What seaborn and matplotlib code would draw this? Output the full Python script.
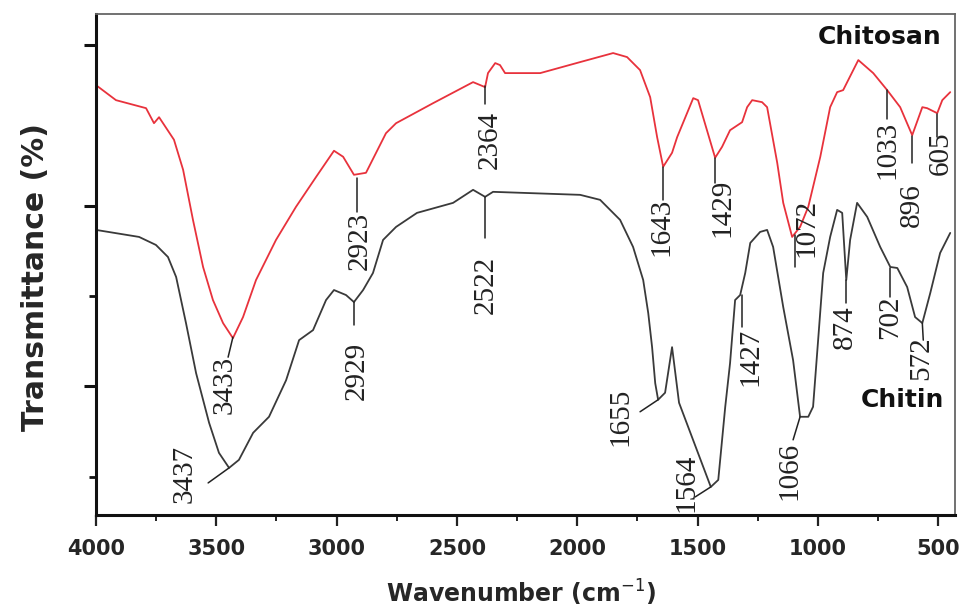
import numpy as np
import pandas as pd
import matplotlib
matplotlib.use("Agg")
import matplotlib.pyplot as plt
from matplotlib import font_manager
from matplotlib.ticker import FixedLocator, MultipleLocator, NullFormatter
import seaborn as sns

# ---------------- data ----------------
chitosan_wn = [4000, 3917, 3792, 3759, 3738, 3676, 3638, 3597, 3555, 3514, 3472, 3431,
               3389, 3335, 3252, 3169, 3085, 3011, 2973, 2928, 2878, 2836, 2795, 2753,
               2599, 2433, 2383, 2371, 2341, 2321, 2300, 2154, 1988, 1851, 1793, 1739,
               1697, 1668, 1643, 1606, 1585, 1518, 1498, 1427, 1398, 1365, 1315, 1294,
               1273, 1232, 1211, 1169, 1144, 1107, 1074, 1040, 990, 949, 920, 895,
               832, 770, 712, 658, 608, 566, 546, 504, 483, 450]
chitosan_t = [85.8, 82.8, 81.2, 78.2, 79.4, 74.9, 68.9, 58.9, 49.5, 42.9, 38.3, 35.3,
              39.5, 46.9, 54.9, 61.5, 67.5, 72.7, 71.5, 67.9, 68.3, 72.3, 76.2, 78.2,
              82.2, 86.4, 85.4, 88.2, 90.2, 89.8, 88.2, 88.2, 90.4, 92.2, 91.4, 88.8,
              83.4, 75.4, 69.5, 72.3, 75.4, 83.2, 82.8, 71.3, 73.5, 76.8, 78.4, 81.4,
              82.8, 82.4, 81.4, 70.3, 62.3, 55.5, 57.5, 61.5, 71.5, 81.4, 84.4, 84.8,
              90.8, 88.2, 84.8, 81.4, 75.8, 81.4, 81.2, 80.2, 82.8, 84.4]

chitin_wn = [4000, 3821, 3751, 3701, 3667, 3626, 3584, 3530, 3489, 3447, 3406, 3347,
             3281, 3210, 3156, 3098, 3044, 3011, 2961, 2928, 2890, 2849, 2807, 2753,
             2666, 2516, 2433, 2383, 2350, 1988, 1905, 1822, 1768, 1726, 1705, 1689,
             1676, 1664, 1635, 1606, 1577, 1445, 1414, 1385, 1365, 1344, 1323, 1302,
             1281, 1240, 1211, 1186, 1144, 1103, 1074, 1040, 1020, 999, 978, 949,
             920, 899, 882, 866, 837, 795, 741, 699, 670, 629, 596, 566, 533, 492, 450]
chitin_t = [56.9, 55.5, 53.9, 51.5, 47.5, 38.3, 28.3, 18.4, 12.4, 9.4, 11.0, 16.4,
            19.6, 26.9, 34.9, 36.9, 42.9, 44.9, 43.9, 42.5, 44.9, 48.3, 54.9, 57.5,
            60.3, 62.3, 64.9, 63.5, 64.5, 63.9, 62.9, 58.9, 53.5, 46.9, 40.3, 33.5,
            26.3, 23.0, 24.4, 33.5, 22.4, 5.6, 7.0, 21.6, 30.3, 42.9, 43.9, 48.3,
            54.3, 56.5, 56.9, 53.5, 41.5, 30.9, 19.6, 19.6, 21.6, 34.9, 48.3, 55.5,
            60.9, 60.3, 46.9, 54.9, 62.3, 59.5, 53.5, 49.5, 49.3, 45.5, 39.5, 38.3,
            44.3, 52.3, 56.3]

x_ticks = [4000, 3500, 3000, 2500, 2000, 1500, 1000, 500]

chitosan_labels = ["3433", "2923", "2364", "1643", "1429", "1072", "1033", "896", "605"]
chitin_labels = ["3437", "2929", "2522", "1655", "1564", "1427", "1066", "874", "702", "572"]

# ---------------- layout: (curve point), (leader end), (text centre) ----------------
chitosan_ann = [((3431, 35.5), (3451, 31.5), (3464, 25.9)),
                ((2915, 67.3), (2915, 60.5), (2903, 54.7)),
                ((2383, 85.6), (2383, 82.0), (2362, 74.9)),
                ((1643, 69.5), (1643, 62.9), (1651, 57.5)),
                ((1427, 71.3), (1427, 66.3), (1398, 61.3)),
                ((1094, 55.9), (1094, 49.5), (1049, 57.3)),
                ((712, 84.8), (712, 79.0), (712, 72.9)),
                ((608, 75.6), (608, 70.3), (608, 61.9)),
                ((504, 80.0), (504, 75.4), (491, 72.3))]
chitin_ann = [((3447, 9.4), (3534, 6.4), (3630, 8.2)),
              ((2928, 42.5), (2928, 37.9), (2915, 28.7)),
              ((2383, 63.5), (2383, 55.3), (2379, 45.9)),
              ((1664, 23.0), (1739, 20.6), (1822, 19.6)),
              ((1445, 5.6), (1510, 3.6), (1547, 6.4)),
              ((1315, 43.9), (1315, 37.5), (1281, 31.5)),
              ((1074, 19.6), (1103, 15.0), (1119, 8.8)),
              ((882, 46.9), (882, 42.3), (887, 37.5)),
              ((699, 49.3), (699, 43.5), (699, 39.5)),
              ((566, 38.3), (562, 34.9), (570, 31.3))]

sns.set_theme(style="white")

available = {f.name for f in font_manager.fontManager.ttflist}
if "Liberation Sans Narrow" in available:
    SANS = ["Liberation Sans Narrow", "DejaVu Sans"]
    k = 1.45
else:
    SANS = ["DejaVu Sans"]
    k = 1.0
SERIF = ["Liberation Serif", "DejaVu Serif"]

plt.rcParams["font.family"] = SANS

df = pd.concat([
    pd.DataFrame({"wn": chitosan_wn, "T": chitosan_t, "sample": "Chitosan"}),
    pd.DataFrame({"wn": chitin_wn, "T": chitin_t, "sample": "Chitin"}),
])

fig = plt.figure(figsize=(9.61, 6.08), dpi=100)
ax = fig.add_axes([0.0999, 0.1530, 0.8939, 0.8240])

sns.lineplot(data=df, x="wn", y="T", hue="sample", units="sample", estimator=None,
             palette={"Chitosan": "#e8323c", "Chitin": "#3a3a3a"},
             linewidth=1.3, legend=False, ax=ax, sort=False)

ax.set_xlim(4000, 430)
ax.set_ylim(0, 100)

ax.xaxis.set_major_locator(FixedLocator(x_ticks))
ax.xaxis.set_minor_locator(MultipleLocator(250))
ax.set_xticklabels([str(t) for t in x_ticks])
ax.yaxis.set_major_locator(FixedLocator([25.7, 61.7, 93.8]))
ax.yaxis.set_minor_locator(FixedLocator([7.6, 43.7]))
ax.yaxis.set_major_formatter(NullFormatter())

ax.tick_params(axis="x", which="major", direction="out", length=8, width=1.6,
               color="#222222", bottom=True, pad=9, labelsize=15 * k)
ax.tick_params(axis="x", which="minor", direction="out", length=4, width=1.4,
               color="#222222", bottom=True)
ax.tick_params(axis="y", which="major", direction="out", length=9, width=2.2,
               color="#111111", left=True)
ax.tick_params(axis="y", which="minor", direction="out", length=5, width=2.0,
               color="#111111", left=True)
for lab in ax.get_xticklabels():
    lab.set_fontweight("bold")
    lab.set_family(SANS)

for side in ["left", "bottom"]:
    ax.spines[side].set_color("#111111")
    ax.spines[side].set_linewidth(2.2)
for side in ["top", "right"]:
    ax.spines[side].set_color("#666666")
    ax.spines[side].set_linewidth(1.3)

ax.set_xlabel("Wavenumber (cm$^{-1}$)", fontsize=17 * k, fontweight="bold", family=SANS)
ax.xaxis.set_label_coords(0.495, -0.125)
ax.set_ylabel("Transmittance (%)", fontsize=21.5 * k, fontweight="bold", family=SANS)
ax.yaxis.set_label_coords(-0.053, 0.475)

def annotate(labels, anns):
    for txt, (p0, p1, tc) in zip(labels, anns):
        ax.plot([p0[0], p1[0]], [p0[1], p1[1]], color="#222222", lw=1.1)
        ax.text(tc[0], tc[1], txt, rotation=90, ha="center", va="center",
                fontsize=21, family=SERIF, color="#222222")

annotate(chitosan_labels, chitosan_ann)
annotate(chitin_labels, chitin_ann)

ax.text(745, 95.4, "Chitosan", ha="center", va="center", fontsize=18 * k,
        fontweight="bold", family=SANS, color="#111111")
ax.text(650, 23.0, "Chitin", ha="center", va="center", fontsize=18 * k,
        fontweight="bold", family=SANS, color="#111111")

fig.savefig("out.png", dpi=100)
